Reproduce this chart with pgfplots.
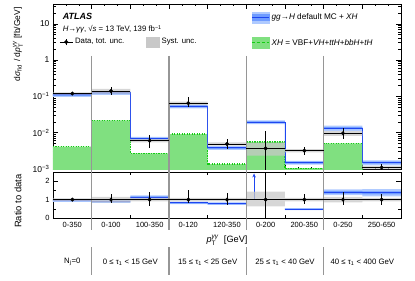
\documentclass[border=0pt]{standalone}
\usepackage{fontspec}
\setmainfont{Liberation Sans}
\usepackage{amsmath}
\usepackage{pgfplots}
\usepackage{pgfplotstable}
\pgfplotsset{compat=1.18}
\usetikzlibrary{arrows.meta}

\definecolor{bandin}{RGB}{110,155,255}
\definecolor{bandout}{RGB}{175,202,255}
\definecolor{bline}{RGB}{30,70,240}
\definecolor{gfill}{RGB}{128,224,128}
\definecolor{gline}{RGB}{20,205,20}
\definecolor{syst}{RGB}{200,200,200}
\definecolor{sep}{RGB}{150,150,150}

% gg->H + XH, central values per bin (last row closes the step)
\pgfplotstableread{
x y
0 0.11
1 0.125
2 0.0068
3 0.053
4 0.0038
5 0.0194
6 0.0015
7 0.0134
8 0.0015
9 0.0015
}\bluemain

% XH only
\pgfplotstableread{
x y
0 0.0041
1 0.022
2 0.0027
3 0.0092
4 0.00137
5 0.0056
6 0.00105
7 0.0051
8 0.0007
9 0.0007
}\greenmain

\pgfplotstableread{
x xe y em ep
0.5 0.5 0.12 0.012 0.013
1.5 0.5 0.14 0.03 0.04
2.5 0.5 0.006 0.0021 0.0026
3.5 0.5 0.065 0.013 0.033
4.5 0.5 0.0049 0.0013 0.0017
5.5 0.5 0.0037 0.0028 0.0076
6.5 0.5 0.0032 0.0008 0.0009
7.5 0.5 0.0096 0.003 0.0041
8.5 0.5 0.0011 0.0003 0.0003
}\datamain

\pgfplotstableread{
x xe y em ep
0.5 0.5 1 0.10 0.11
1.5 0.5 1 0.21 0.29
2.5 0.5 1 0.35 0.43
3.5 0.5 1 0.20 0.50
4.5 0.5 1 0.27 0.35
5.5 0.5 1 1.00 2.00
6.5 0.5 1 0.25 0.28
7.5 0.5 1 0.31 0.43
8.5 0.5 1 0.30 0.30
}\dataratio

\begin{document}
\begin{tikzpicture}
\path[use as bounding box] (-53pt,-112pt) rectangle (362pt,169pt);

\begin{axis}[
  name=main, at={(0pt,0pt)}, anchor=south west,
  scale only axis, width=348pt, height=165pt,
  xmin=0, xmax=9, ymode=log, ymin=1e-3, ymax=35,
  xtick={0,1,...,9}, xticklabels={}, minor x tick num=2,
  ytick={1e-3,1e-2,1e-1,1,10},
  yticklabels={10\textsuperscript{−3},10\textsuperscript{−2},10\textsuperscript{−1},1,10},
  minor ytick={2e-3,3e-3,4e-3,5e-3,6e-3,7e-3,8e-3,9e-3,2e-2,3e-2,4e-2,5e-2,6e-2,7e-2,8e-2,9e-2,0.2,0.3,0.4,0.5,0.6,0.7,0.8,0.9,2,3,4,5,6,7,8,9,20,30},
  tick align=inside, xtick pos=both, ytick pos=both,
  major tick length=5pt, minor tick length=2.5pt,
  axis line style={line width=0.8pt},
  every tick/.style={black, line width=0.5pt},
  yticklabel style={font=\fontsize{8.5}{10}\selectfont},
  legend style={at={(0.569,0.955)}, anchor=north west, draw=none, fill=none,
    font=\fontsize{8.2}{9.5}\selectfont, row sep=14pt, inner sep=0pt},
  legend cell align=left,
]
% green XH area
\addplot[fill=gfill, draw=none, forget plot] coordinates {(0,0.0005) (0,0.0041) (1,0.0041) (1,0.022) (2,0.022) (2,0.0027) (3,0.0027) (3,0.0092) (4,0.0092) (4,0.00137) (5,0.00137) (5,0.0056) (6,0.0056) (6,0.00105) (7,0.00105) (7,0.0051) (8,0.0051) (8,0.0007) (9,0.0007) (9,0.0005)};
\addplot[gline, line width=1.4pt, dash pattern=on 1.4pt off 1.1pt, const plot mark left, forget plot] table[x=x,y=y] {\greenmain};
% blue bands (outer, inner)
\addplot[fill=bandout, draw=none, forget plot] coordinates {(0,0.1232) (1,0.1232) (1,0.140) (2,0.140) (2,0.00762) (3,0.00762) (3,0.0594) (4,0.0594) (4,0.00426) (5,0.00426) (5,0.0217) (6,0.0217) (6,0.00168) (7,0.00168) (7,0.01554) (8,0.01554) (8,0.00174) (9,0.00174) (9,0.00126) (8,0.00126) (8,0.01126) (7,0.01126) (7,0.00132) (6,0.00132) (6,0.0171) (5,0.0171) (5,0.00334) (4,0.00334) (4,0.0466) (3,0.0466) (3,0.00598) (2,0.00598) (2,0.110) (1,0.110) (1,0.0968) (0,0.0968)};
\addplot[fill=bandin, draw=none, forget plot] coordinates {(0,0.1166) (1,0.1166) (1,0.1325) (2,0.1325) (2,0.00721) (3,0.00721) (3,0.0562) (4,0.0562) (4,0.00403) (5,0.00403) (5,0.0206) (6,0.0206) (6,0.00159) (7,0.00159) (7,0.0142) (8,0.0142) (8,0.00159) (9,0.00159) (9,0.00141) (8,0.00141) (8,0.0126) (7,0.0126) (7,0.00141) (6,0.00141) (6,0.0182) (5,0.0182) (5,0.00357) (4,0.00357) (4,0.0498) (3,0.0498) (3,0.00639) (2,0.00639) (2,0.1175) (1,0.1175) (1,0.1034) (0,0.1034)};
\addplot[bline, line width=0.9pt, const plot mark left, forget plot] table[x=x,y=y] {\bluemain};
% data systematic band
\addplot[fill=syst, draw=none, opacity=0.75, forget plot] coordinates {(0,0.1284) (1,0.1284) (1,0.161) (2,0.161) (2,0.0066) (3,0.0066) (3,0.0715) (4,0.0715) (4,0.00539) (5,0.00539) (5,0.00533) (6,0.00533) (6,0.00352) (7,0.00352) (7,0.01104) (8,0.01104) (8,0.00121) (9,0.00121) (9,0.00099) (8,0.00099) (8,0.00816) (7,0.00816) (7,0.00288) (6,0.00288) (6,0.00233) (5,0.00233) (5,0.00441) (4,0.00441) (4,0.0585) (3,0.0585) (3,0.0054) (2,0.0054) (2,0.119) (1,0.119) (1,0.1116) (0,0.1116)};
% separators
\addplot[sep, line width=1.3pt, forget plot] coordinates {(1,1.3) (1,0.0009)};
\addplot[sep, line width=1.3pt, forget plot] coordinates {(3,1.3) (3,0.0009)};
\addplot[sep, line width=1.3pt, forget plot] coordinates {(5,1.3) (5,0.0009)};
\addplot[sep, line width=1.3pt, forget plot] coordinates {(7,1.3) (7,0.0009)};
% data
\addplot[black, only marks, mark=*, mark size=1.8pt, forget plot,
  error bars/.cd, x dir=both, x explicit, y dir=both, y explicit,
  error mark=none, error bar style={line width=0.8pt, black}]
  table[x=x, y=y, x error=xe, y error minus=em, y error plus=ep] {\datamain};

\addlegendimage{legend image code/.code={
  \fill[bandout] (0cm,-0.19cm) rectangle (0.6cm,0.19cm);
  \fill[bandin] (0cm,-0.11cm) rectangle (0.6cm,0.11cm);
  \draw[bline, line width=0.9pt] (0cm,0cm) -- (0.6cm,0cm);}}
\addlegendentry{\textit{gg}→\textit{H} default MC + \textit{XH}}
\addlegendimage{legend image code/.code={
  \fill[gfill] (0cm,-0.19cm) rectangle (0.6cm,0.19cm);
  \draw[gline, line width=1.4pt, dash pattern=on 3pt off 2pt] (0cm,0cm) -- (0.6cm,0cm);}}
\addlegendentry{\textit{XH} = VBF+\textit{VH}+\textit{ttH}+\textit{bbH}+\textit{tH}}

\node[anchor=west, font=\fontsize{9}{10}\selectfont\bfseries\itshape] at (rel axis cs:0.018,0.925) {ATLAS};
\node[anchor=west, font=\fontsize{7.8}{9.5}\selectfont] at (rel axis cs:0.018,0.846) {\textit{H}→\textit{γγ}, √\textit{s} = 13 TeV, 139 fb\textsuperscript{−1}};
\end{axis}

% left legend
\begin{axis}[
  at={(0pt,0pt)}, anchor=south west, scale only axis, width=348pt, height=165pt,
  hide axis, xmin=0, xmax=1, ymin=0, ymax=1,
  legend columns=2,
  legend style={at={(0.018,0.770)}, anchor=west, draw=none, fill=none,
    font=\fontsize{7.8}{9}\selectfont, inner sep=0pt,
    /tikz/every even column/.append style={column sep=20pt}},
  legend cell align=left,
]
\addplot[draw=none, forget plot] coordinates {(0,0) (1,1)};
\addlegendimage{legend image code/.code={
  \draw[black, line width=0.8pt] (0cm,0cm) -- (0.45cm,0cm);
  \draw[black, line width=0.8pt] (0.225cm,-0.12cm) -- (0.225cm,0.12cm);
  \fill[black] (0.225cm,0cm) circle (1.8pt);}}
\addlegendentry{Data, tot. unc.}
\addlegendimage{legend image code/.code={
  \fill[syst] (0cm,-0.17cm) rectangle (0.45cm,0.17cm);}}
\addlegendentry{Syst. unc.}
\end{axis}

\begin{axis}[
  name=ratio, at={(0pt,-3pt)}, anchor=north west,
  scale only axis, width=348pt, height=46pt,
  xmin=0, xmax=9, ymin=0, ymax=2.5,
  xtick={0.5,1.5,...,8.5},
  xticklabels={0-350,0-100,100-350,0-120,120-350,0-200,200-350,0-250,250-650},
  minor xtick={0,1,...,9},
  ytick={0,1,2}, yticklabels={0,1,2}, minor ytick={0.5,1.5},
  tick align=inside, xtick pos=both, ytick pos=both,
  major x tick style={draw=none},
  major tick length=5pt, minor tick length=3pt,
  axis line style={line width=0.8pt},
  every tick/.style={black, line width=0.5pt},
  ticklabel style={font=\fontsize{7.5}{9}\selectfont},
  xticklabel style={yshift=-1pt},
]
% blue ratio bands (bin 0-200 of 25-40 GeV is off scale)
\addplot[fill=bandout, draw=none, forget plot] coordinates {(0,1.04) (1,1.04) (1,0.98) (2,0.98) (2,1.23) (3,1.23) (3,0.89) (4,0.89) (4,0.85) (5,0.85) (5,0.71) (4,0.71) (4,0.75) (3,0.75) (3,1.03) (2,1.03) (2,0.82) (1,0.82) (1,0.88) (0,0.88)};
\addplot[fill=bandout, draw=none, forget plot] coordinates {(6,0.53) (7,0.53) (7,1.55) (8,1.55) (8,1.57) (9,1.57) (9,1.17) (8,1.17) (8,1.25) (7,1.25) (7,0.43) (6,0.43)};
\addplot[fill=bandin, draw=none, forget plot] coordinates {(0,1.00) (1,1.00) (1,0.94) (2,0.94) (2,1.18) (3,1.18) (3,0.86) (4,0.86) (4,0.82) (5,0.82) (5,0.74) (4,0.74) (4,0.78) (3,0.78) (3,1.08) (2,1.08) (2,0.86) (1,0.86) (1,0.92) (0,0.92)};
\addplot[fill=bandin, draw=none, forget plot] coordinates {(6,0.51) (7,0.51) (7,1.47) (8,1.47) (8,1.45) (9,1.45) (9,1.29) (8,1.29) (8,1.33) (7,1.33) (7,0.45) (6,0.45)};
% blue ratio lines
\addplot[bline, line width=0.9pt, forget plot] coordinates {(0,0.96) (1,0.96)};
\addplot[bline, line width=0.9pt, forget plot] coordinates {(1,0.90) (2,0.90)};
\addplot[bline, line width=0.9pt, forget plot] coordinates {(2,1.13) (3,1.13)};
\addplot[bline, line width=0.9pt, forget plot] coordinates {(3,0.82) (4,0.82)};
\addplot[bline, line width=0.9pt, forget plot] coordinates {(4,0.78) (5,0.78)};
\addplot[bline, line width=0.9pt, forget plot] coordinates {(6,0.48) (7,0.48)};
\addplot[bline, line width=0.9pt, forget plot] coordinates {(7,1.40) (8,1.40)};
\addplot[bline, line width=0.9pt, forget plot] coordinates {(8,1.37) (9,1.37)};
\addplot[bline, line width=0.9pt, -{Stealth[length=4pt,width=3.5pt]}, forget plot] coordinates {(5.2,1.0) (5.2,2.42)};
% systematic band
\addplot[fill=syst, draw=none, opacity=0.75, forget plot] coordinates {(0,1.07) (1,1.07) (1,1.15) (2,1.15) (2,1.1) (3,1.1) (4,1.1) (5,1.1) (5,1.44) (6,1.44) (6,1.1) (7,1.1) (7,1.15) (8,1.15) (8,1.1) (9,1.1) (9,0.9) (8,0.9) (8,0.85) (7,0.85) (7,0.9) (6,0.9) (6,0.63) (5,0.63) (5,0.9) (4,0.9) (3,0.9) (2,0.9) (2,0.85) (1,0.85) (1,0.93) (0,0.93)};
% separators
\addplot[sep, line width=1.3pt, forget plot] coordinates {(1,0) (1,2.5)};
\addplot[sep, line width=1.3pt, forget plot] coordinates {(3,0) (3,2.5)};
\addplot[sep, line width=1.3pt, forget plot] coordinates {(5,0) (5,2.5)};
\addplot[sep, line width=1.3pt, forget plot] coordinates {(7,0) (7,2.5)};
\addplot[black, only marks, mark=*, mark size=1.8pt, forget plot,
  error bars/.cd, x dir=both, x explicit, y dir=both, y explicit,
  error mark=none, error bar style={line width=0.8pt, black}]
  table[x=x, y=y, x error=xe, y error minus=em, y error plus=ep] {\dataratio};
\end{axis}

% separators between panels and below
\foreach \sx in {38.667,116,193.333,270.667}{
  \draw[sep, line width=1.3pt] (\sx pt,0pt) -- (\sx pt,-3pt);
  \draw[sep, line width=1.3pt] (\sx pt,-49pt) -- (\sx pt,-61pt);
  \draw[sep, line width=1.3pt] (\sx pt,-78pt) -- (\sx pt,-106pt);
}

% axis titles
\node[rotate=90, anchor=east, font=\fontsize{8.5}{9.5}\selectfont] at (-35pt,165pt)
  {d\textit{σ}\textsubscript{fid} / d\textit{p}$^{\text{\textit{γγ}}}_{\text{T}}$ [fb/GeV]};
\node[rotate=90, anchor=east, font=\fontsize{9.4}{11}\selectfont] at (-35pt,-2pt) {Ratio to data};
\node[font=\fontsize{9.2}{11}\selectfont] at (174pt,-71pt) {\textit{p}$^{\text{\textit{γγ}}}_{\text{T}}$ \ [GeV]};

% bottom category row
\begin{scope}[every node/.style={font=\fontsize{7.8}{9}\selectfont}]
\node at (19.33pt,-93pt) {N\textsubscript{j}=0};
\node at (77.33pt,-93pt) {0 ≤ τ\textsubscript{1} < 15 GeV};
\node at (154.67pt,-93pt) {15 ≤ τ\textsubscript{1} < 25 GeV};
\node at (232pt,-93pt) {25 ≤ τ\textsubscript{1} < 40 GeV};
\node at (309.33pt,-93pt) {40 ≤ τ\textsubscript{1} < 400 GeV};
\end{scope}
\end{tikzpicture}
\end{document}
